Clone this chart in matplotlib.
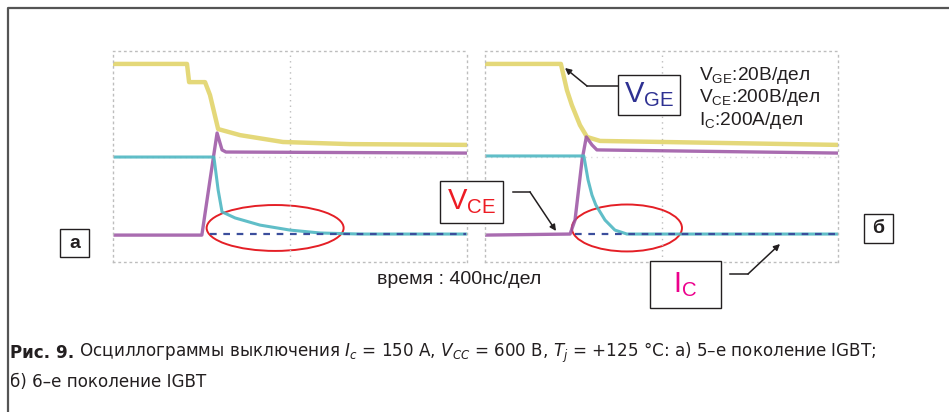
import matplotlib.pyplot as plt
from matplotlib import font_manager
from matplotlib.ft2font import FT2Font
from matplotlib.patches import Ellipse, Rectangle

plt.rcParams['font.family'] = ['Liberation Sans', 'DejaVu Sans']
plt.rcParams['mathtext.default'] = 'regular'

# scope traces, time in ns (0..1000 across panel), amplitude in divisions (0..8)
# panel a) 5th generation
a_vge_t = [6, 209, 215, 260, 274, 297, 359, 480, 669, 997]
a_vge_y = [7.51, 7.51, 6.82, 6.82, 6.33, 5.04, 4.81, 4.55, 4.47, 4.44]
a_vce_t = [6, 251, 274, 294, 308, 319, 997]
a_vce_y = [1.02, 1.02, 3.11, 4.89, 4.25, 4.17, 4.13]
a_ic_t = [6, 285, 297, 308, 345, 415, 500, 585, 698, 997]
a_ic_y = [3.98, 3.98, 2.73, 1.90, 1.67, 1.40, 1.21, 1.10, 1.06, 1.06]
a_base_t = [274, 997]
a_base_y = [1.06, 1.06]

# panel б) 6th generation
b_vge_t = [0, 215, 232, 246, 269, 289, 326, 1000]
b_vge_y = [7.51, 7.51, 6.52, 5.95, 5.19, 4.74, 4.59, 4.44]
b_vce_t = [0, 241, 255, 275, 287, 303, 317, 1000]
b_vce_y = [1.02, 1.06, 1.59, 3.87, 4.74, 4.44, 4.25, 4.13]
b_ic_t = [0, 280, 292, 303, 314, 340, 368, 402, 1000]
b_ic_y = [4.02, 4.02, 3.11, 2.54, 2.16, 1.59, 1.21, 1.06, 1.06]
b_base_t = [255, 1000]
b_base_y = [1.06, 1.06]

# red ellipses: centre (t, y), width ns, height div
a_ell = (458, 1.29, 387, 1.74)
b_ell = (402, 1.29, 312, 1.78)

c_vge = '#e2d46a'
c_vce = '#9a52a3'
c_ic = '#4fb7c2'
c_base = '#3b4e9c'

fig = plt.figure(figsize=(9.49, 4.12), dpi=100)
W, H = 949, 412


def panel(x0, w, vge, vce, ic, base, ell):
    ax = fig.add_axes([x0 / W, 1 - 262 / H, w / W, 211 / H])
    ax.set_xlim(0, 1000)
    ax.set_ylim(0, 8)
    ax.set_xticks([])
    ax.set_yticks([])
    for s in ax.spines.values():
        s.set_linestyle((0, (1, 3)))
        s.set_color('#bdbdbd')
        s.set_linewidth(1)
    ax.axvline(500, color='#bdbdbd', lw=1, ls=(0, (1, 3)))
    ax.axhline(4, color='#dddddd', lw=1, ls=(0, (1, 3)))
    ax.plot(*vge, color=c_vge, lw=3.2, alpha=0.9, solid_joinstyle='round')
    ax.plot(*vce, color=c_vce, lw=2.4, alpha=0.85, solid_joinstyle='round')
    ax.plot(*ic, color=c_ic, lw=2.2, alpha=0.9, solid_joinstyle='round')
    ax.plot(*base, color=c_base, lw=1.6, ls=(0, (3, 3)))
    ax.add_patch(Ellipse(ell[:2], ell[2], ell[3], fill=False, ec='#e41f26', lw=1.4))
    return ax


panel(113, 354, (a_vge_t, a_vge_y), (a_vce_t, a_vce_y), (a_ic_t, a_ic_y),
      (a_base_t, a_base_y), a_ell)
panel(485, 353, (b_vge_t, b_vge_y), (b_vce_t, b_vce_y), (b_ic_t, b_ic_y),
      (b_base_t, b_base_y), b_ell)

# overlay in pixel coordinates for frame, labels and callouts
ov = fig.add_axes([0, 0, 1, 1])
ov.set_xlim(0, W)
ov.set_ylim(H, 0)
ov.axis('off')
ov.patch.set_alpha(0)

ov.plot([8, 8, W], [H, 8, 8], color='#555555', lw=1.6)

ink = '#231f20'


def box(x0, y0, x1, y1, txt, color, size, bold=False):
    ov.add_patch(Rectangle((x0, y0), x1 - x0, y1 - y0, fc='white', ec=ink, lw=1))
    ov.text((x0 + x1) / 2, (y0 + y1) / 2, txt, color=color, fontsize=size,
            ha='center', va='center', fontweight='bold' if bold else 'normal')


def callout(pts):
    xs, ys = zip(*pts)
    ov.plot(xs[:-1], ys[:-1], color=ink, lw=1.1)
    ov.annotate('', xy=pts[-1], xytext=pts[-2],
                arrowprops=dict(arrowstyle='-|>', color=ink, lw=1.1, mutation_scale=9,
                                shrinkA=0, shrinkB=0))


box(618, 75, 680, 115, r'V$_{GE}$', '#2e3192', 21)
box(440, 181, 503, 223, r'V$_{CE}$', '#ed1c24', 21)
box(650, 261, 721, 308, r'I$_{C}$', '#ec008c', 21)
box(60, 229, 89, 257, 'а', ink, 14, bold=True)
box(864, 214, 893, 243, 'б', ink, 14, bold=True)

callout([(618, 86), (587, 86), (565, 68)])
callout([(513, 192), (530, 192), (556, 231)])
callout([(730, 274), (748, 274), (780, 244)])

scale_lines = [r'V$_{GE}$:20В/дел', r'V$_{CE}$:200В/дел', r'I$_{C}$:200А/дел']
for i, s in enumerate(scale_lines):
    ov.text(699, 75 + i * 22.5, s, fontsize=13.8, color=ink, ha='left', va='center')

ov.text(377, 279, 'время : 400нс/дел', fontsize=14, color=ink, ha='left', va='center')


# caption: prefer a narrow face with Cyrillic if one is installed
def has_cyrillic(path):
    try:
        return 0x41E in FT2Font(path).get_charmap()
    except Exception:
        return False


narrow = [f.name for f in font_manager.fontManager.ttflist
          if ('Narrow' in f.name or 'Condensed' in f.name or f.stretch == 'condensed')
          and has_cyrillic(f.fname)]
cap_font = [narrow[0] if narrow else 'Roboto', 'DejaVu Sans']
bold = ov.text(10, 353, 'Рис. 9.', fontsize=15, fontweight='bold', color=ink,
               ha='left', va='center', family=cap_font)
rest = ov.annotate(' Осциллограммы выключения $\\mathit{I_c}$ = 150 А, $\\mathit{V_{CC}}$ = 600 В, '
                   '$\\mathit{T_j}$ = +125 °C: а) 5–е поколение IGBT;',
                   xy=(1, 0.5), xycoords=bold, ha='left', va='center', fontsize=15,
                   color=ink, family=cap_font)
line2 = ov.text(10, 382, 'б) 6–е поколение IGBT', fontsize=15, color=ink, ha='left',
                va='center', family=cap_font)

# fit first caption line to its width in the reference
fig.canvas.draw()
r = fig.canvas.get_renderer()
span = rest.get_window_extent(r).x1 - bold.get_window_extent(r).x0
size = 15 * 868 / span
for t in (bold, rest, line2):
    t.set_fontsize(size)

fig.savefig('out.png', dpi=100)
